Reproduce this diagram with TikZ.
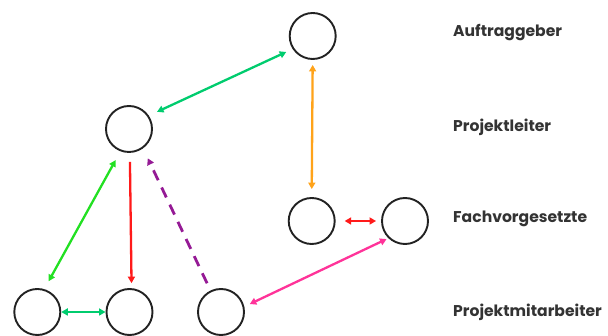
\documentclass[tikz,border=0pt]{standalone}
\usepackage{fontspec}
\setmainfont{Poppins}
\usetikzlibrary{arrows.meta}
\definecolor{ringgray}{HTML}{222222}
\definecolor{labelgray}{HTML}{333333}
\definecolor{mintgreen}{HTML}{00CC6E}
\definecolor{brightgreen}{HTML}{22E022}
\definecolor{signalred}{HTML}{FF1A1A}
\definecolor{amber}{HTML}{FFA31A}
\definecolor{hotpink}{HTML}{FF3399}
\definecolor{plum}{HTML}{951A95}
\tikzset{
  role/.style={circle, draw=ringgray, line width=1.9pt, minimum size=46pt, inner sep=0pt},
  rolelabel/.style={anchor=west, inner sep=0pt, text=labelgray, font=\bfseries\fontsize{15.6}{18}\selectfont},
  tip/.style={Triangle[length=6.5pt,width=7pt]},
  link/.style={line width=2.3pt, -{Triangle[length=6.5pt,width=7pt]}},
  twoway/.style={line width=2.3pt, {Triangle[length=6.5pt,width=7pt]}-{Triangle[length=6.5pt,width=7pt]}},
}
\begin{document}
\begin{tikzpicture}[x=1pt,y=-1pt]
  \useasboundingbox (0,0) rectangle (608,336);

  % roles
  \node[role] (ag) at (312.7,36) {};
  \node[role] (pl) at (129,129) {};
  \node[role] (fl) at (311.7,221) {};
  \node[role] (fr) at (405,221) {};
  \node[role] (m1) at (37.3,312) {};
  \node[role] (m2) at (129.5,312) {};
  \node[role] (m3) at (221,312) {};

  % level labels
  \node[rolelabel] (lag) at (453,33) {Auftraggeber};
  \node[rolelabel] (lpl) at (453,127) {Projektleiter};
  \node[rolelabel] (lfv) at (453,219) {Fachvorgesetzte};
  \node[rolelabel] (lpm) at (453,312) {Projektmitarbeiter};

  % relations
  \draw[twoway, mintgreen, shorten <=9pt, shorten >=7pt] (pl.34) -- (ag.213.5);
  \draw[twoway, amber, shorten <=5pt, shorten >=8pt] (ag.270) -- (fl.90);
  \draw[twoway, signalred, shorten <=9pt, shorten >=5pt] (fl.0) -- (fr.180);
  \draw[twoway, hotpink, shorten <=6pt, shorten >=2pt] (m3.13.6) -- (fr.226.5);
  \draw[twoway, brightgreen, shorten <=9pt, shorten >=10pt] (m1.73) -- (pl.249);
  \draw[link, signalred, shorten <=9pt, shorten >=5pt] (pl.272) -- (m2.85);
  \draw[link, plum, line width=2.8pt, dash pattern=on 11pt off 8pt, shorten <=8pt, shorten >=11pt] (m3.116) -- (pl.306);
  \draw[twoway, mintgreen] (m1.0) -- (m2.180);
\end{tikzpicture}
\end{document}
